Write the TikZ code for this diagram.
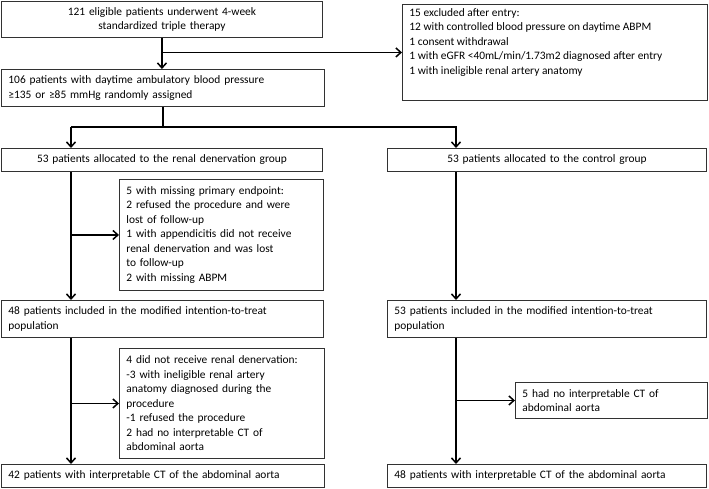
\documentclass[tikz,border=0pt]{standalone}
\usepackage{fontspec}
\setmainfont{Carlito}
\usetikzlibrary{arrows.meta}
\definecolor{rahmen}{RGB}{50,50,50}

\tikzset{
    kasten/.style={draw=rahmen, line width=0.9pt, anchor=north west, inner xsep=7pt, inner ysep=0pt,
        font=\fontsize{11.4}{14.5}\selectfont},
    linie/.style={line width=1.5pt},
    pfeil/.style={linie, -{Straight Barb[length=5pt, width=9pt]}}
}

\begin{document}
\begin{tikzpicture}[x=1pt, y=-1pt]

        \useasboundingbox (0,0) rectangle (709,488);  %Rand

        % linke Spalte
        \node[kasten, align=center, text width=307pt, minimum height=36pt] (entry) at (1,1)
            {121 eligible patients underwent 4-week\\standardized triple therapy};
        \node[kasten, align=left, text width=309pt, minimum height=37pt] (random) at (1,69)
            {106 patients with daytime ambulatory blood pressure\\≥135 or ≥85 mmHg randomly assigned};
        \node[kasten, align=center, text width=307pt, minimum height=23pt] (rdn) at (1,148)
            {53 patients allocated to the renal denervation group};
        \node[kasten, align=left, text width=190pt, minimum height=111pt] (missing) at (119,179)
            {5 with missing primary endpoint:\\2 refused the procedure and were\\lost of follow-up\\1 with appendicitis did not receive\\renal denervation and was lost\\to follow-up\\2 with missing ABPM};
        \node[kasten, align=left, text width=308pt, minimum height=37pt] (ittrdn) at (1,300)
            {48 patients included in the modified intention-to-treat\\population};
        \node[kasten, align=left, text width=191pt, minimum height=110pt] (norden) at (119,348)
            {4 did not receive renal denervation:\\-3 with ineligible renal artery\\anatomy diagnosed during the\\procedure\\-1 refused the procedure\\2 had no interpretable CT of\\abdominal aorta};
        \node[kasten, align=left, text width=309pt, minimum height=23pt] (ctrdn) at (1,464)
            {42 patients with interpretable CT of the abdominal aorta};

        % rechte Spalte
        \node[kasten, minimum height=96pt] (excluded) at (402,4)
            {\parbox[c][88pt][t]{291pt}{\raggedright 15 excluded after entry:\\12 with controlled blood pressure on daytime ABPM\\1 consent withdrawal\\1 with eGFR <40mL/min/1.73m2 diagnosed after entry\\1 with ineligible renal artery anatomy}};
        \node[kasten, align=center, text width=305pt, minimum height=23pt] (ctrl) at (387,148)
            {53 patients allocated to the control group};
        \node[kasten, align=left, text width=305pt, minimum height=37pt] (ittctrl) at (387,300)
            {53 patients included in the modified intention-to-treat\\population};
        \node[kasten, align=left, text width=178pt, minimum height=36pt] (noct) at (515,382)
            {5 had no interpretable CT of\\abdominal aorta};
        \node[kasten, align=left, text width=305pt, minimum height=23pt] (ctctrl) at (387,464)
            {48 patients with interpretable CT of the abdominal aorta};

        \coordinate (links) at (71,127);  %Verzweigung links
        \coordinate (rechts) at (456,127);  %Verzweigung rechts

        \draw[pfeil] (entry.south) -- (entry.south |- random.north);
        \draw[pfeil] (entry.south |- excluded.west) -- (excluded.west);  %Ausschluss

        \draw[linie] (random.south) -- (random.south |- links);
        \draw[pfeil] (links) -- (links |- rdn.north);
        \draw[pfeil] (links) -- (rechts) -- (rechts |- ctrl.north);

        \draw[pfeil] (links |- rdn.south) -- (links |- ittrdn.north);
        \draw[pfeil] (links |- missing.west) -- (missing.west);
        \draw[pfeil] (links |- ittrdn.south) -- (links |- ctrdn.north);
        \draw[pfeil] (links |- norden.west) -- (norden.west);

        \draw[pfeil] (rechts |- ctrl.south) -- (rechts |- ittctrl.north);
        \draw[pfeil] (rechts |- ittctrl.south) -- (rechts |- ctctrl.north);
        \draw[pfeil] (rechts |- noct.west) -- (noct.west);

\end{tikzpicture}
\end{document}
